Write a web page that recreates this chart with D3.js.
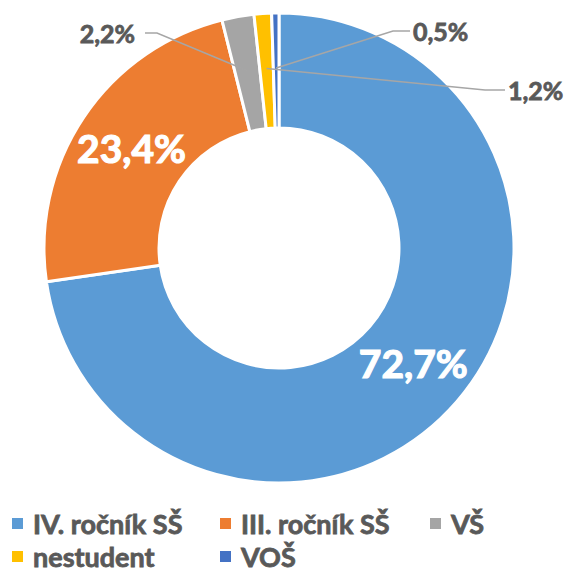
<!DOCTYPE html>
<html><head><meta charset="utf-8">
<script src="https://cdn.jsdelivr.net/npm/d3@7"></script>
<style>
body{margin:0;background:#fff;}
svg{display:block;font-family:Lato,"Open Sans",sans-serif;font-weight:bold;}
</style></head>
<body>
<div id="chart"></div>
<script>
const categories = ["IV. ročník SŠ", "III. ročník SŠ", "VŠ", "nestudent", "VOŠ"];
const values = [72.7, 23.4, 2.2, 1.2, 0.5];
const labels = ["72,7%", "23,4%", "2,2%", "1,2%", "0,5%"];
const colors = ["#5B9BD5", "#ED7D31", "#A5A5A5", "#FFC000", "#4472C4"];

const W = 572, H = 572;
const cx = 279, cy = 248, R = 235, r0 = 120;
const svg = d3.select("#chart").append("svg").attr("width", W).attr("height", H);

const data = categories.map((c, i) => ({cat: c, value: values[i], label: labels[i], color: colors[i]}));
const pie = d3.pie().value(d => d.value).sort(null);
const arcs = pie(data);
const arc = d3.arc().innerRadius(r0).outerRadius(R);
const g = svg.append("g").attr("transform", `translate(${cx},${cy})`);

g.selectAll("path").data(arcs).join("path")
  .attr("d", arc).attr("fill", d => d.data.color)
  .attr("stroke", "#fff").attr("stroke-width", 3).attr("stroke-linejoin", "round");

// inside labels
g.selectAll("text.in").data(arcs.filter(d => d.data.value > 10)).join("text")
  .attr("class", "in")
  .attr("x", d => arc.centroid(d)[0])
  .attr("y", d => arc.centroid(d)[1])
  .attr("text-anchor", "middle").attr("dy", "0.36em")
  .attr("fill", "#fff").attr("stroke", "#fff").attr("stroke-width", 1.2)
  .attr("font-size", 39)
  .text(d => d.data.label);

// outside labels with leader lines (label placement relative to centre)
const outside = {
  "VŠ":        {lx: -144, ly: -205, anchor: "end",   elbow: -122},
  "nestudent": {lx: 229,  ly: -148, anchor: "start", elbow: 206},
  "VOŠ":       {lx: 134,  ly: -207, anchor: "start", elbow: 114}
};
const lineR = 180;
arcs.filter(d => outside[d.data.cat]).forEach(d => {
  const o = outside[d.data.cat];
  const a = (d.startAngle + d.endAngle) / 2;
  const px = lineR * Math.sin(a), py = -lineR * Math.cos(a);
  const lyLine = o.ly - 10;
  const startX = o.anchor === "end" ? o.lx + 10 : o.lx - 3;
  g.append("polyline")
    .attr("points", `${startX},${lyLine} ${o.elbow},${lyLine} ${px},${py}`)
    .attr("fill", "none").attr("stroke", "#A6A6A6").attr("stroke-width", 1.5);
  g.append("text")
    .attr("x", o.lx)
    .attr("y", o.ly)
    .attr("text-anchor", o.anchor)
    .attr("fill", "#595959").attr("stroke", "#595959").attr("stroke-width", 0.8)
    .attr("font-size", 25)
    .text(d.data.label);
});

// legend
const legendPos = [[12, 534], [220, 534], [430, 534], [12, 567], [220, 567]];
const lg = svg.append("g");
data.forEach((d, i) => {
  const [x, y] = legendPos[i];
  lg.append("rect").attr("x", x).attr("y", y - 16).attr("width", 11).attr("height", 11).attr("fill", d.color);
  lg.append("text").attr("x", x + 21).attr("y", y)
    .attr("fill", "#595959").attr("stroke", "#595959").attr("stroke-width", 0.8)
    .attr("font-size", 27).text(d.cat);
});
</script>
</body></html>
